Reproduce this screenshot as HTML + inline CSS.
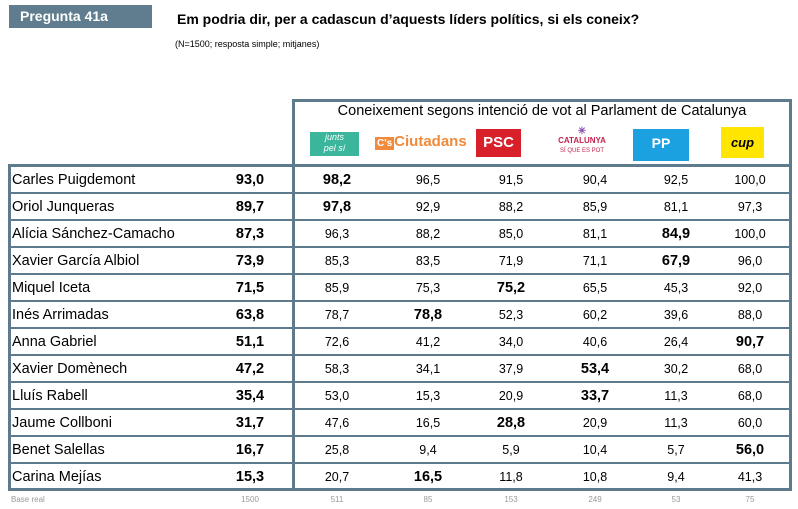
<!DOCTYPE html>
<html><head><style>
body{margin:0;width:798px;height:509px;background:#fff;font-family:"Liberation Sans",Arial,sans-serif;position:relative;overflow:hidden}
.a{position:absolute}
.hl{position:absolute;background:#5d7b8d}
.r{position:absolute;font-size:14.5px;color:#000;white-space:nowrap}
.n{position:absolute;font-size:12.5px;width:60px;text-align:center;white-space:nowrap}
.b{font-weight:bold;font-size:14.5px}
</style></head><body>
<div class="a" style="left:9px;top:5px;width:143px;height:23px;background:#5f7d8e;color:#fff;font-weight:bold;font-size:14px;line-height:23px;padding-left:11px;box-sizing:border-box">Pregunta 41a</div>
<div class="a" style="left:177px;top:11px;font-weight:bold;font-size:14px">Em podria dir, per a cadascun d’aquests líders polítics, si els coneix?</div>
<div class="a" style="left:175px;top:39px;font-size:9px">(N=1500; resposta simple; mitjanes)</div>
<!-- header box -->
<div class="hl" style="left:292px;top:99px;width:499px;height:3px"></div>
<div class="hl" style="left:292px;top:99px;width:3px;height:392px"></div>
<div class="hl" style="left:789px;top:99px;width:3px;height:392px"></div>
<div class="a" style="left:295px;top:103px;width:494px;text-align:center;font-size:14.5px">Coneixement segons intenció de vot al Parlament de Catalunya</div>
<div class="a" style="left:310px;top:132px;width:49px;height:24px;background:#3bb59c;color:#fff;font-size:9px;font-style:italic;text-align:center;line-height:11px">junts<br>pel sí</div>
<div class="a" style="left:375px;top:133px;font-size:15px;color:#f08a3c;font-weight:bold"><span style="background:#f08a3c;color:#fff;font-size:10px;padding:1px 2px">C's</span>Ciutadans</div>
<div class="a" style="left:476px;top:129px;width:45px;height:28px;background:#d8202a;color:#fff;font-size:15px;line-height:28px;text-align:center;font-weight:bold">PSC</div>
<div class="a" style="left:552px;top:127px;width:60px;text-align:center;font-size:8px;color:#c4234f;font-weight:bold;line-height:9px"><span style="color:#8b4bb0;font-size:10px">✳</span><br>CATALUNYA<br><span style="font-size:6px;font-weight:normal">SÍ QUE ES POT</span></div>
<div class="a" style="left:633px;top:129px;width:56px;height:32px;background:#1ba0e0;color:#fff;text-align:center;font-weight:bold;font-size:14px;line-height:28px">PP</div>
<div class="a" style="left:721px;top:127px;width:43px;height:31px;background:#ffe500;color:#000;font-weight:bold;font-style:italic;font-size:13px;text-align:center;line-height:31px">cup</div>
<!-- table -->
<div class="hl" style="left:8px;top:164px;width:784px;height:3px"></div>
<div class="hl" style="left:8px;top:164px;width:3px;height:327px"></div>
<div class="hl" style="left:8px;top:488px;width:784px;height:3px"></div>
<div id="t"></div>
<div class="a" style="left:11px;top:495px;font-size:8px;color:#999">Base real</div>
<script>
var d=[["Carles Puigdemont","93,0","98,2","96,5","91,5","90,4","92,5","100,0",[2]],
["Oriol Junqueras","89,7","97,8","92,9","88,2","85,9","81,1","97,3",[2]],
["Alícia Sánchez-Camacho","87,3","96,3","88,2","85,0","81,1","84,9","100,0",[6]],
["Xavier García Albiol","73,9","85,3","83,5","71,9","71,1","67,9","96,0",[6]],
["Miquel Iceta","71,5","85,9","75,3","75,2","65,5","45,3","92,0",[4]],
["Inés Arrimadas","63,8","78,7","78,8","52,3","60,2","39,6","88,0",[3]],
["Anna Gabriel","51,1","72,6","41,2","34,0","40,6","26,4","90,7",[7]],
["Xavier Domènech","47,2","58,3","34,1","37,9","53,4","30,2","68,0",[5]],
["Lluís Rabell","35,4","53,0","15,3","20,9","33,7","11,3","68,0",[5]],
["Jaume Collboni","31,7","47,6","16,5","28,8","20,9","11,3","60,0",[4]],
["Benet Salellas","16,7","25,8","9,4","5,9","10,4","5,7","56,0",[7]],
["Carina Mejías","15,3","20,7","16,5","11,8","10,8","9,4","41,3",[3]]];
var cx=[250,337,428,511,595,676,750],h="";
d.forEach(function(r,i){var y=167+i*27;
 if(i>0)h+='<div class="hl" style="left:8px;top:'+(y-2)+'px;width:784px;height:2px"></div>';
 h+='<div class="r" style="left:12px;top:'+(y+5)+'px">'+r[0]+'</div>';
 for(var j=1;j<8;j++){var b=(j==1||r[8].indexOf(j)>=0);
  h+='<div class="n'+(b?' b':'')+'" style="left:'+(cx[j-1]-30)+'px;top:'+(y+(b?5:6))+'px">'+r[j]+'</div>';}
});
var bs=["1500","511","85","153","249","53","75"];
bs.forEach(function(v,j){h+='<div class="n" style="left:'+(cx[j]-30)+'px;top:495px;font-size:8px;color:#999">'+v+'</div>';});
document.getElementById("t").innerHTML=h;
</script>
</body></html>
